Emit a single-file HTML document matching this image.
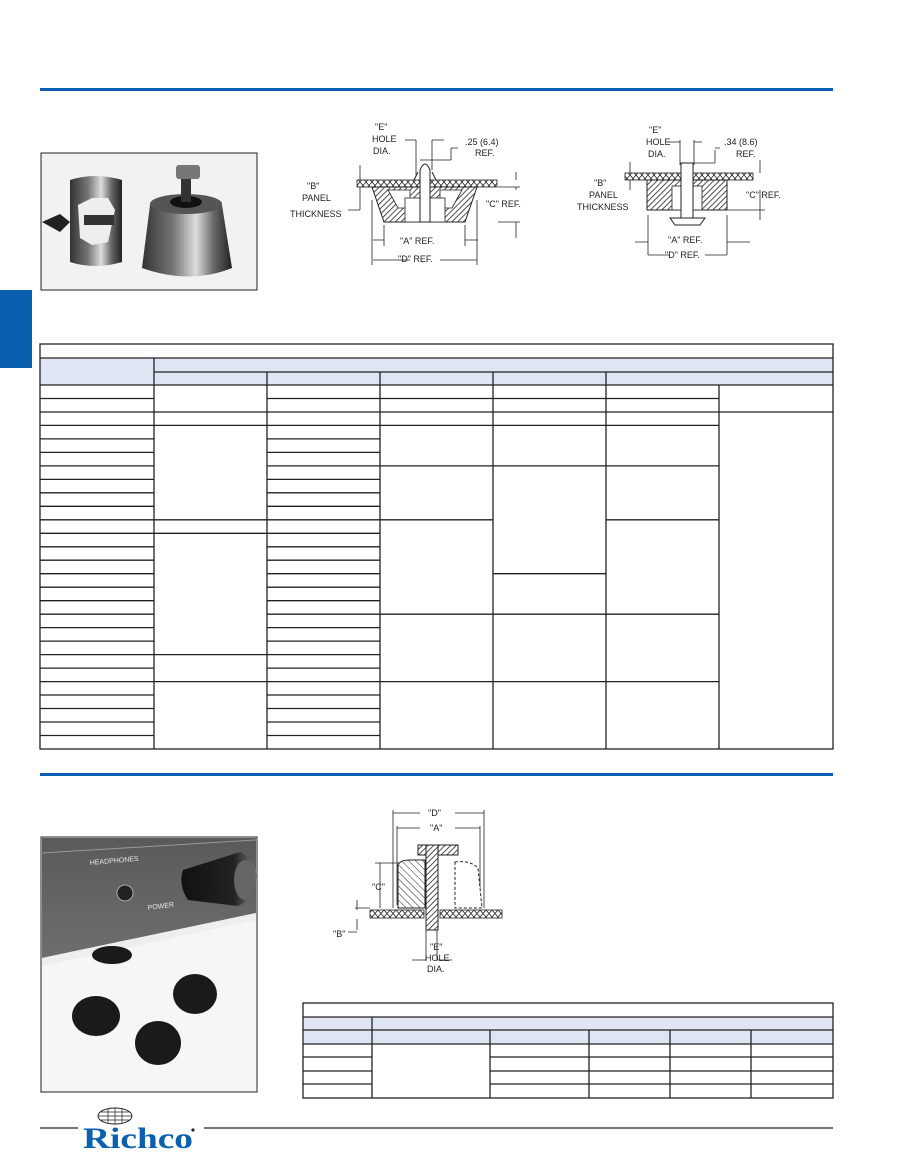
<!DOCTYPE html>
<html><head><meta charset="utf-8"><style>
html,body{margin:0;padding:0;background:#fff}
svg{display:block}
text{font-family:"Liberation Sans",sans-serif;font-size:9px;fill:#222}
</style></head><body>
<svg width="905" height="1175" viewBox="0 0 905 1175" xmlns="http://www.w3.org/2000/svg">
<defs>
<pattern id="h" width="4" height="4" patternUnits="userSpaceOnUse" patternTransform="rotate(45)"><rect width="4" height="4" fill="#fff"/><line x1="0" y1="0" x2="0" y2="4" stroke="#222" stroke-width="1.6"/></pattern>
<pattern id="h2" width="5" height="5" patternUnits="userSpaceOnUse" patternTransform="rotate(-45)"><rect width="5" height="5" fill="#fff"/><line x1="0" y1="0" x2="0" y2="5" stroke="#222" stroke-width="1"/></pattern>
<pattern id="x" width="6" height="7" patternUnits="userSpaceOnUse"><rect width="6" height="7" fill="#fff"/><path d="M0 0L6 7M6 0L0 7" stroke="#222" stroke-width="0.8"/></pattern>
<linearGradient id="metal" x1="0" x2="1"><stop offset="0" stop-color="#333"/><stop offset="0.35" stop-color="#777"/><stop offset="0.6" stop-color="#ddd"/><stop offset="0.8" stop-color="#666"/><stop offset="1" stop-color="#222"/></linearGradient>
<linearGradient id="panel" x1="0" y1="0" x2="0" y2="1"><stop offset="0" stop-color="#5a5a5a"/><stop offset="1" stop-color="#6e6e6e"/></linearGradient>
<linearGradient id="knob" x1="0" x2="1"><stop offset="0" stop-color="#111"/><stop offset="0.7" stop-color="#222"/><stop offset="1" stop-color="#777"/></linearGradient>
</defs>

<!-- blue rules -->
<rect x="40" y="88" width="793" height="3" fill="#0b5fb0"/>
<rect x="40" y="773" width="793" height="3" fill="#0b5fb0"/>
<rect x="0" y="290" width="32" height="78" fill="#0b5fb0"/>

<!-- photo 1 -->
<rect x="41" y="153" width="216" height="137" fill="#f2f2f2" stroke="#222" stroke-width="1"/>
<path d="M70 180 Q95 172 122 180 L122 262 Q95 270 70 262 Z" fill="url(#metal)"/>
<path d="M78 205 L92 198 L108 198 L115 210 L108 242 L92 245 L80 238 Z" fill="#eee"/>
<rect x="84" y="215" width="30" height="10" fill="#333"/>
<path d="M42 222 L60 214 L70 222 L60 232 Z" fill="#222"/>
<path d="M150 205 Q185 190 222 205 L232 268 Q190 285 142 268 Z" fill="url(#metal)"/>
<ellipse cx="186" cy="204" rx="36" ry="10" fill="#555"/>
<ellipse cx="186" cy="202" rx="16" ry="6" fill="#111"/>
<rect x="181" y="178" width="10" height="24" fill="#333"/>
<rect x="176" y="165" width="24" height="14" rx="3" fill="#777"/>

<!-- diagram 1 -->
<rect x="357" y="180" width="140" height="7" fill="url(#x)" stroke="#222" stroke-width="0.8"/>
<path d="M372 187 L477 187 L465 222 L384 222 Z" fill="url(#h)" stroke="#222"/>
<path d="M388 190 L410 190 L410 205 L440 205 L440 190 L462 190 L452 208 L398 208 Z" fill="#fff" stroke="#222" stroke-width="0.8"/>
<rect x="405" y="198" width="40" height="24" fill="#fff" stroke="#222" stroke-width="0.8"/>
<path d="M420 222 L420 170 Q425 158 430 170 L430 222 Z" fill="#fff" stroke="#222"/>
<path d="M414 180 L418 172 M436 180 L432 172" stroke="#222"/>
<g stroke="#222" stroke-width="0.8" fill="none">
<path d="M416 140V175 M432 140V170 M405 140H416 M432 140H444 M451 160H420 M451 160V148 M451 148H458"/>
<path d="M360 165V180 M360 187V210 M348 210H360 M516 172V180 M516 187V190 M498 187H520 M498 222H520 M516 222V238"/>
<path d="M372 200V265 M477 200V265 M384 225V246 M465 225V246 M373 240H384 M465 240H478 M373 260H410 M440 260H477"/>
</g>
<text x="375" y="130">"E"</text><text x="372" y="142">HOLE</text><text x="373" y="154">DIA.</text>
<text x="465" y="145">.25 (6.4)</text><text x="475" y="156">REF.</text>
<text x="307" y="189">"B"</text><text x="302" y="201">PANEL</text><text x="290" y="217">THICKNESS</text>
<text x="486" y="207">"C"  REF.</text>
<text x="400" y="244">"A"  REF.</text>
<text x="398" y="262">"D"    REF.</text>

<!-- diagram 2 -->
<rect x="625" y="173" width="128" height="7" fill="url(#x)" stroke="#222" stroke-width="0.8"/>
<rect x="647" y="180" width="80" height="30" fill="url(#h)" stroke="#222"/>
<rect x="672" y="186" width="30" height="24" fill="#fff" stroke="#222" stroke-width="0.8"/>
<rect x="681" y="163" width="12" height="55" fill="#fff" stroke="#222"/>
<path d="M670 218 H705 L700 225 H675 Z" fill="#fff" stroke="#222"/>
<g stroke="#222" stroke-width="0.8" fill="none">
<path d="M680 140V165 M694 140V165 M667 142H680 M694 142H702 M715 163H694 M715 163V150 M715 148H720"/>
<path d="M630 162V173 M630 180V190 M760 160V173 M760 190V210 M727 210H765 M760 210V220"/>
<path d="M648 215V255 M727 215V255 M635 242H648 M727 242H750 M648 255H670 M705 255H727"/>
</g>
<text x="649" y="133">"E"</text><text x="646" y="145">HOLE</text><text x="648" y="157">DIA.</text>
<text x="724" y="145">.34 (8.6)</text><text x="736" y="157">REF.</text>
<text x="594" y="186">"B"</text><text x="589" y="198">PANEL</text><text x="577" y="210">THICKNESS</text>
<text x="746" y="198">"C"  REF.</text>
<text x="668" y="243">"A"  REF.</text>
<text x="665" y="258">"D"  REF.</text>

<!-- table 1 -->
<rect x="40" y="358" width="793" height="27" fill="#dfe5f2"/>
<g stroke="#222" stroke-width="1.3" fill="none">
<rect x="40" y="344" width="793" height="405"/>
<path d="M40 358H833 M154 372H833 M40 385H833 M154 358V385 M267 372V385 M380 372V385 M493 372V385 M606 372V385"/>
<path d="M154 385V749 M267 385V749 M380 385V749 M493 385V749 M606 385V749 M719 385V749"/>
<path d="M40 398.5H154M40 412H154M40 425.4H154M40 438.9H154M40 452.4H154M40 465.9H154M40 479.4H154M40 492.8H154M40 506.3H154M40 519.8H154M40 533.3H154M40 546.8H154M40 560.2H154M40 573.7H154M40 587.2H154M40 600.7H154M40 614.2H154M40 627.6H154M40 641.1H154M40 654.6H154M40 668.1H154M40 681.6H154M40 695H154M40 708.5H154M40 722H154M40 735.5H154"/>
<path d="M267 398.5H380M267 412H380M267 425.4H380M267 438.9H380M267 452.4H380M267 465.9H380M267 479.4H380M267 492.8H380M267 506.3H380M267 519.8H380M267 533.3H380M267 546.8H380M267 560.2H380M267 573.7H380M267 587.2H380M267 600.7H380M267 614.2H380M267 627.6H380M267 641.1H380M267 654.6H380M267 668.1H380M267 681.6H380M267 695H380M267 708.5H380M267 722H380M267 735.5H380"/>
<path d="M154 412H267M154 425.4H267M154 519.8H267M154 533.3H267M154 654.6H267M154 681.6H267"/>
<path d="M380 398.5H719M380 412H833M380 425.4H719M380 465.9H719M380 681.6H719M380 614.2H719"/>
<path d="M380 519.8H493M606 519.8H719M493 573.7H606"/>
</g>

<!-- photo 2 -->
<rect x="41" y="837" width="216" height="255" fill="#f6f6f6" stroke="#222" stroke-width="1"/>
<path d="M42 838H256V913 L42 958 Z" fill="url(#panel)"/>
<path d="M42 958 L256 913 V920 L42 966 Z" fill="#eee"/>
<path d="M42 853 L256 840" stroke="#999" stroke-width="1"/>
<text x="90" y="865" style="font-size:7px;fill:#e8e8e8" transform="rotate(-5 90 865)">HEADPHONES</text>
<text x="148" y="910" style="font-size:7px;fill:#e8e8e8" transform="rotate(-7 148 910)">POWER</text>
<circle cx="125" cy="893" r="8" fill="#222" stroke="#aaa" stroke-width="1"/>
<path d="M183 870 L240 852 Q258 860 256 880 Q252 900 238 906 L188 900 Q178 885 183 870Z" fill="url(#knob)"/>
<ellipse cx="245" cy="880" rx="11" ry="20" fill="#666"/>
<ellipse cx="112" cy="955" rx="20" ry="9" fill="#1a1a1a"/>
<ellipse cx="96" cy="1016" rx="24" ry="20" fill="#1a1a1a"/>
<ellipse cx="195" cy="994" rx="22" ry="20" fill="#1a1a1a"/>
<ellipse cx="158" cy="1043" rx="23" ry="22" fill="#1a1a1a"/>

<!-- diagram 3 -->
<g stroke="#222" stroke-width="0.8" fill="none">
<path d="M393 810V908 M484 810V908 M393 813H420 M455 813H484 M397 826V905 M480 826V905 M397 828H420 M455 828H480"/>
<path d="M375 863H400 M380 863V908 M355 908H370 M357 900V910 M357 919V930 M348 932H357"/>
<path d="M426 930V960 M437 930V960 M412 960H426 M437 960H452"/>
</g>
<path d="M398 865 Q400 860 410 860 L425 860 L425 908 L398 908 Z" fill="url(#h2)" stroke="#222"/>
<path d="M455 862 Q470 860 478 868 L482 908 L455 908 Z" fill="#fff" stroke="#222" stroke-dasharray="3 2"/>
<rect x="418" y="845" width="40" height="10" fill="url(#h)" stroke="#222"/>
<rect x="426" y="845" width="12" height="85" fill="url(#h)" stroke="#222"/>
<rect x="370" y="910" width="54" height="8" fill="url(#x)" stroke="#222" stroke-width="0.8"/>
<rect x="440" y="910" width="62" height="8" fill="url(#x)" stroke="#222" stroke-width="0.8"/>
<text x="428" y="816">"D"</text><text x="430" y="831">"A"</text>
<text x="372" y="890">"C"</text><text x="333" y="937">"B"</text>
<text x="430" y="950">"E"</text><text x="425" y="961">HOLE</text><text x="427" y="972">DIA.</text>

<!-- table 2 -->
<rect x="303" y="1017" width="530" height="27" fill="#dfe5f2"/>
<g stroke="#222" stroke-width="1.3" fill="none">
<rect x="303" y="1003" width="530" height="95"/>
<path d="M303 1017H833 M303 1030H833 M303 1044H833 M372 1017V1098 M490 1030V1098 M589 1030V1098 M670 1030V1098 M751 1030V1098"/>
<path d="M303 1057H372 M303 1071H372 M303 1084H372 M490 1057H833 M490 1071H833 M490 1084H833"/>
</g>

<!-- footer -->
<path d="M40 1128H78 M204 1128H833" stroke="#222" stroke-width="1.3"/>
<ellipse cx="115" cy="1116" rx="17" ry="8" fill="none" stroke="#222" stroke-width="1"/>
<path d="M98 1116H132 M115 1108V1124 M101 1112H129 M101 1120H129 M108 1109V1123 M122 1109V1123" stroke="#222" stroke-width="0.7"/>
<text x="83" y="1148" textLength="110" lengthAdjust="spacingAndGlyphs" style="font-family:'Liberation Serif',serif;font-size:30px;font-weight:bold;fill:#0b5fb0">Richco</text>
<circle cx="193" cy="1130" r="1.6" fill="#222"/>
</svg>
</body></html>
